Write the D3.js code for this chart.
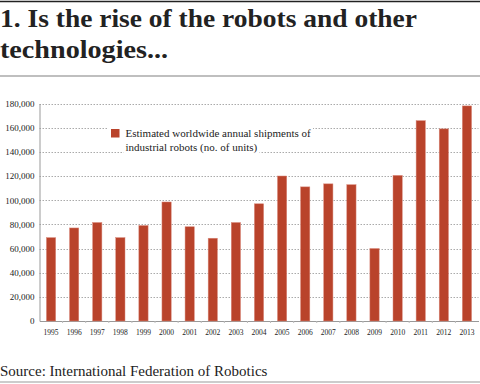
<!DOCTYPE html>
<html>
<head>
<meta charset="utf-8">
<script src="https://cdn.jsdelivr.net/npm/d3@7"></script>
<style>
  body { margin: 0; background: #fff; }
  text { font-family: "Liberation Serif", "DejaVu Serif", serif; fill: #222; }
</style>
</head>
<body>
<div id="chart"></div>
<script>
// data
var years = ['1995', '1996', '1997', '1998', '1999', '2000', '2001', '2002', '2003', '2004',
  '2005', '2006', '2007', '2008', '2009', '2010', '2011', '2012', '2013'];
var shipments = [69000, 77000, 81500, 69000, 79000, 98500, 78000, 68500, 81500, 97000,
  120000, 111000, 113500, 112800, 60000, 120500, 165800, 159000, 178000];
var yTicks = [0, 20000, 40000, 60000, 80000, 100000, 120000, 140000, 160000, 180000];
var titleLines = ['1. Is the rise of the robots and other', 'technologies...'];
var legendLines = ['Estimated worldwide annual shipments of', 'industrial robots (no. of units)'];
var sourceText = 'Source: International Federation of Robotics';

var W = 480, H = 384;
var margin = { top: 103.5, right: 1.5, bottom: 63, left: 39.5 };
var barColor = '#b9432b';

var svg = d3.select('#chart').append('svg')
  .attr('width', W)
  .attr('height', H);

// header rules + title
svg.append('line')
  .attr('x1', 0).attr('x2', W).attr('y1', 1.5).attr('y2', 1.5)
  .attr('stroke', '#222').attr('stroke-width', 1.5);

svg.selectAll('.title')
  .data(titleLines)
  .enter().append('text')
  .attr('class', 'title')
  .attr('x', 0)
  .attr('y', function(d, i) { return 27 + i * 31; })
  .attr('font-size', 26)
  .attr('font-weight', 'bold')
  .attr('textLength', function(d, i) { return i === 0 ? 417 : 168; })
  .attr('lengthAdjust', 'spacingAndGlyphs')
  .text(function(d) { return d; });

svg.append('line')
  .attr('x1', 0).attr('x2', W).attr('y1', 76).attr('y2', 76)
  .attr('stroke', '#aaa').attr('stroke-width', 1.5);

// scales
var x = d3.scaleBand()
  .domain(years)
  .range([margin.left, W - margin.right])
  .paddingInner(0.6)
  .paddingOuter(0.3);

var y = d3.scaleLinear()
  .domain([0, 180000])
  .range([H - margin.bottom, margin.top]);

// gridlines
svg.append('g')
  .selectAll('line')
  .data(yTicks.slice(1))
  .enter().append('line')
  .attr('x1', margin.left)
  .attr('x2', W - margin.right)
  .attr('y1', function(d) { return Math.round(y(d)) + 0.5; })
  .attr('y2', function(d) { return Math.round(y(d)) + 0.5; })
  .attr('stroke', '#aaa')
  .attr('stroke-dasharray', '1.5,1.5');

// y axis
var yAxis = svg.append('g')
  .attr('transform', 'translate(' + margin.left + ',0)')
  .call(d3.axisLeft(y).tickValues(yTicks).tickSize(0).tickPadding(5).tickFormat(d3.format(',')));
yAxis.select('.domain').attr('stroke', '#999');
yAxis.selectAll('text')
  .attr('font-size', 9)
  .attr('fill', '#222');

// x axis
var xAxis = svg.append('g')
  .attr('transform', 'translate(0,' + (H - margin.bottom) + ')')
  .call(d3.axisBottom(x).tickSize(0).tickPadding(9).tickSizeOuter(0));
xAxis.select('.domain').attr('stroke', '#999');
xAxis.selectAll('text')
  .attr('font-size', 7.5)
  .attr('fill', '#222');

// small ticks between categories
svg.append('g')
  .selectAll('line')
  .data(years.slice(1))
  .enter().append('line')
  .attr('x1', function(d) { return x(d) - x.step() * 0.3; })
  .attr('x2', function(d) { return x(d) - x.step() * 0.3; })
  .attr('y1', H - margin.bottom)
  .attr('y2', H - margin.bottom + 2)
  .attr('stroke', '#bbb');

// bars
svg.append('g')
  .selectAll('rect')
  .data(shipments)
  .enter().append('rect')
  .attr('x', function(d, i) { return x(years[i]); })
  .attr('y', function(d) { return y(d); })
  .attr('width', x.bandwidth())
  .attr('height', function(d) { return y(0) - y(d); })
  .attr('fill', barColor)
  .attr('stroke', '#d9887a')
  .attr('stroke-width', 0.5);

// legend (white boxes cover the gridlines behind the text)
var legend = svg.append('g');
var legTexts = legend.selectAll('text')
  .data(legendLines)
  .enter().append('text')
  .attr('x', 125.5)
  .attr('y', function(d, i) { return 136.5 + i * 14.5; })
  .attr('font-size', 11)
  .text(function(d) { return d; });

legTexts.each(function() {
  var b = this.getBBox();
  legend.insert('rect', 'text')
    .attr('x', b.x - 2)
    .attr('y', b.y - 1)
    .attr('width', b.width + 4)
    .attr('height', b.height + 2)
    .attr('fill', '#fff');
});
legend.insert('rect', 'text')
  .attr('x', 108).attr('y', 124).attr('width', 18).attr('height', 16)
  .attr('fill', '#fff');
legend.append('rect')
  .attr('x', 111).attr('y', 129).attr('width', 8.5).attr('height', 8.5)
  .attr('fill', barColor);

// source + bottom rule
svg.append('text')
  .attr('x', 0)
  .attr('y', 376)
  .attr('font-size', 15)
  .text(sourceText);

svg.append('line')
  .attr('x1', 0).attr('x2', W).attr('y1', 382).attr('y2', 382)
  .attr('stroke', '#999').attr('stroke-width', 1);
</script>
</body>
</html>
